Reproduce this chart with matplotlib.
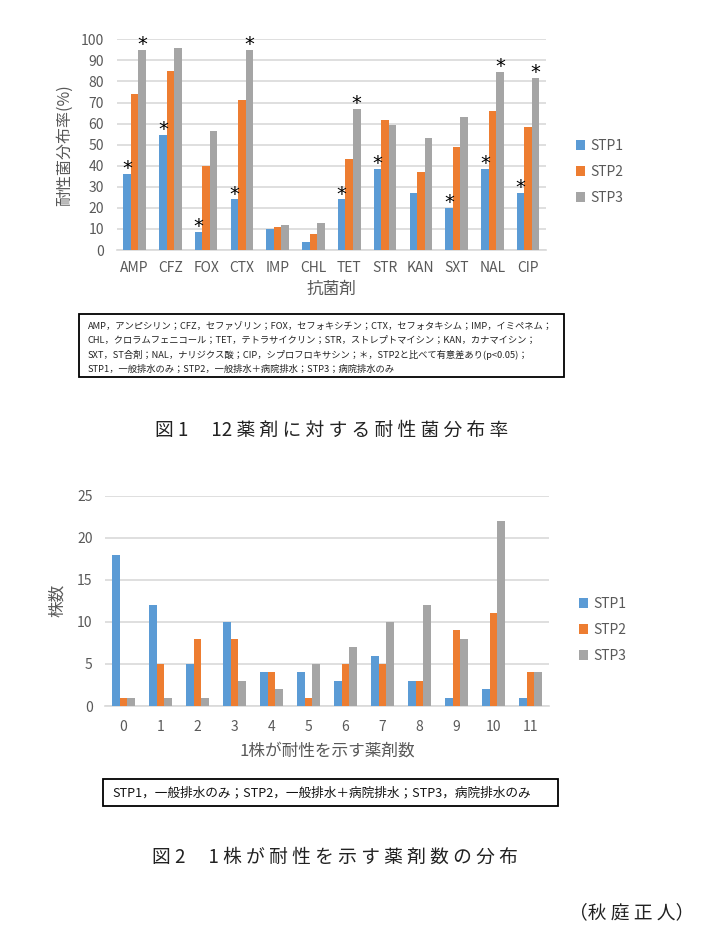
import matplotlib
matplotlib.use("Agg")
import matplotlib.pyplot as plt
from matplotlib.patches import Patch, Rectangle
import numpy as np

plt.rcParams['font.family'] = ['Noto Sans CJK JP', 'DejaVu Sans']

# ---------------- data ----------------
drugs = ["AMP", "CFZ", "FOX", "CTX", "IMP", "CHL", "TET", "STR", "KAN", "SXT", "NAL", "CIP"]
stp1_rate = [36, 54.5, 8.5, 24, 10, 4, 24, 38.5, 27, 20, 38.5, 27]
stp2_rate = [74, 85, 40, 71, 11, 7.5, 43, 61.5, 37, 49, 66, 58.5]
stp3_rate = [95, 96, 56.5, 95, 12, 13, 67, 59.5, 53, 63, 84.5, 81.5]
sig_stp1 = [1, 1, 1, 1, 0, 0, 1, 1, 0, 1, 1, 1]
sig_stp3 = [1, 0, 0, 1, 0, 0, 1, 0, 0, 0, 1, 1]

n_drugs = ["0", "1", "2", "3", "4", "5", "6", "7", "8", "9", "10", "11"]
stp1_cnt = [18, 12, 5, 10, 4, 4, 3, 6, 3, 1, 2, 1]
stp2_cnt = [1, 5, 8, 8, 4, 1, 5, 5, 3, 9, 11, 4]
stp3_cnt = [1, 1, 1, 3, 2, 5, 7, 10, 12, 8, 22, 4]

series_names = ["STP1", "STP2", "STP3"]
colors = ["#5B9BD5", "#ED7D31", "#A5A5A5"]

W, H = 705, 943
fig = plt.figure(figsize=(W / 100, H / 100), dpi=100)
fig.patch.set_facecolor("white")

def fx(px):
    return px / W

def fy(py):
    return 1 - py / H

def add_ax(left, right, top, bottom):
    return fig.add_axes([fx(left), fy(bottom), fx(right) - fx(left), fy(top) - fy(bottom)])

GRID = "#D9D9D9"
TXT = "#595959"

def style_ax(ax, ypad, xpad):
    for s in ["top", "right", "left"]:
        ax.spines[s].set_visible(False)
    ax.spines["bottom"].set_color(GRID)
    ax.spines["bottom"].set_linewidth(1.2)
    ax.yaxis.grid(True, color=GRID, linewidth=1.2)
    ax.set_axisbelow(True)
    ax.tick_params(axis="y", length=0, pad=ypad, labelsize=10, labelcolor=TXT)
    ax.tick_params(axis="x", length=0, pad=xpad, labelsize=10, labelcolor=TXT)

bw = 0.21

# ---------------- chart 1 ----------------
ax1 = add_ax(116.7, 546, 39.3, 250)
x = np.arange(len(drugs))
for i, vals in enumerate([stp1_rate, stp2_rate, stp3_rate]):
    ax1.bar(x + (i - 1) * bw, vals, bw, color=colors[i], zorder=3)
ax1.set_xlim(-0.5, len(drugs) - 0.5)
ax1.set_ylim(0, 100)
ax1.set_yticks(np.arange(0, 101, 10))
ax1.set_xticks(x)
ax1.set_xticklabels(drugs)
style_ax(ax1, 9, 8)
for j in range(len(drugs)):
    if sig_stp1[j]:
        ax1.annotate("*", (x[j] - bw, stp1_rate[j]), xytext=(0, -3), textcoords="offset points",
                     ha="center", va="bottom", fontsize=14, family="DejaVu Sans")
    if sig_stp3[j]:
        ax1.annotate("*", (x[j] + bw, stp3_rate[j]), xytext=(0, -3), textcoords="offset points",
                     ha="center", va="bottom", fontsize=14, family="DejaVu Sans")
ax1.set_xlabel("抗菌剤", fontsize=12, color=TXT, labelpad=4)
ax1.set_ylabel("耐性菌分布率(%)", fontsize=11.5, color=TXT, labelpad=6)

handles = [Patch(facecolor=c, edgecolor="none") for c in colors]
fig.legend(handles, series_names, loc="center left", bbox_to_anchor=(fx(563), fy(172)),
           frameon=False, fontsize=10, handlelength=0.7, handleheight=0.7,
           handletextpad=0.4, labelspacing=0.85, labelcolor=TXT)

# note box 1
fig.patches.append(Rectangle((fx(79.3), fy(377)), fx(564) - fx(79.3), fy(314) - fy(377),
                             transform=fig.transFigure, fill=False, edgecolor="black", linewidth=1.3))
note1 = [
    "AMP，アンピシリン；CFZ，セファゾリン；FOX，セフォキシチン；CTX，セフォタキシム；IMP，イミペネム；",
    "CHL，クロラムフェニコール；TET，テトラサイクリン；STR，ストレプトマイシン；KAN，カナマイシン；",
    "SXT，ST合剤；NAL，ナリジクス酸；CIP，シプロフロキサシン；＊，STP2と比べて有意差あり(p<0.05)；",
    "STP1，一般排水のみ；STP2，一般排水＋病院排水；STP3；病院排水のみ",
]
for k, line in enumerate(note1):
    fig.text(fx(88), fy(326 + k * 14.5), line, fontsize=6.7, va="center", ha="left", color="#222222")

fig.text(fx(155), fy(430), "図 1 　12 薬 剤 に 対 す る 耐 性 菌 分 布 率", fontsize=13.5,
         va="center", ha="left", color="#222222")

# ---------------- chart 2 ----------------
ax2 = add_ax(105, 549, 495.7, 706)
x2 = np.arange(len(n_drugs))
for i, vals in enumerate([stp1_cnt, stp2_cnt, stp3_cnt]):
    ax2.bar(x2 + (i - 1) * bw, vals, bw, color=colors[i], zorder=3)
ax2.set_xlim(-0.5, len(n_drugs) - 0.5)
ax2.set_ylim(0, 25)
ax2.set_yticks(np.arange(0, 26, 5))
ax2.set_xticks(x2)
ax2.set_xticklabels(n_drugs)
style_ax(ax2, 9, 10)
ax2.set_xlabel("1株が耐性を示す薬剤数", fontsize=12, color=TXT, labelpad=6)
ax2.set_ylabel("株数", fontsize=12, color=TXT, labelpad=8)

fig.legend(handles, series_names, loc="center left", bbox_to_anchor=(fx(566), fy(630)),
           frameon=False, fontsize=10, handlelength=0.7, handleheight=0.7,
           handletextpad=0.4, labelspacing=0.85, labelcolor=TXT)

fig.patches.append(Rectangle((fx(102.7), fy(806)), fx(558) - fx(102.7), fy(779) - fy(806),
                             transform=fig.transFigure, fill=False, edgecolor="black", linewidth=1.3))
fig.text(fx(112), fy(792.5), "STP1，一般排水のみ；STP2，一般排水＋病院排水；STP3，病院排水のみ",
         fontsize=9.1, va="center", ha="left", color="#111111")

fig.text(fx(152), fy(857), "図 2 　1 株 が 耐 性 を 示 す 薬 剤 数 の 分 布", fontsize=13.5,
         va="center", ha="left", color="#222222")

fig.text(fx(694), fy(913), "（秋 庭 正 人）", fontsize=13.5, va="center", ha="right", color="#222222")

fig.savefig("out.png", dpi=100, facecolor="white")
